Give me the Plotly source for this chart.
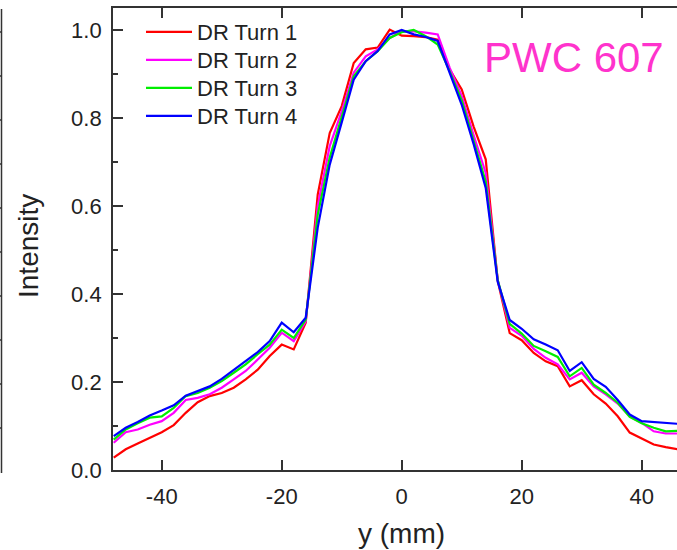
import plotly.graph_objects as go

y_mm = [-48, -46, -44, -42, -40, -38, -36, -34, -32, -30, -28, -26, -24, -22, -20, -18, -16,
        -14, -12, -10, -8, -6, -4, -2, 0, 2, 4, 6, 8, 10, 12, 14, 16, 18, 20, 22, 24, 26,
        28, 30, 32, 34, 36, 38, 40, 42, 44, 46, 48]

turn1 = [0.028, 0.047, 0.060, 0.073, 0.086, 0.102, 0.130, 0.154, 0.168, 0.175, 0.187, 0.206,
         0.228, 0.259, 0.285, 0.274, 0.335, 0.626, 0.766, 0.827, 0.925, 0.956, 0.960, 1.001,
         0.987, 0.986, 0.984, 0.978, 0.910, 0.865, 0.780, 0.706, 0.430, 0.311, 0.295, 0.266,
         0.247, 0.236, 0.190, 0.204, 0.172, 0.151, 0.122, 0.085, 0.071, 0.058, 0.052, 0.047, 0.045]

turn2 = [0.062, 0.086, 0.092, 0.103, 0.111, 0.130, 0.159, 0.164, 0.172, 0.187, 0.206, 0.225,
         0.251, 0.278, 0.312, 0.293, 0.338, 0.600, 0.736, 0.815, 0.903, 0.940, 0.956, 0.982,
         0.997, 0.997, 0.994, 0.990, 0.914, 0.850, 0.760, 0.675, 0.432, 0.323, 0.305, 0.275,
         0.255, 0.240, 0.206, 0.221, 0.190, 0.172, 0.151, 0.122, 0.107, 0.088, 0.083, 0.083, 0.083]

turn3 = [0.069, 0.092, 0.106, 0.119, 0.122, 0.141, 0.168, 0.175, 0.187, 0.202, 0.221, 0.240,
         0.263, 0.285, 0.319, 0.300, 0.342, 0.580, 0.710, 0.800, 0.895, 0.929, 0.952, 0.982,
         0.995, 1.000, 0.986, 0.967, 0.906, 0.840, 0.745, 0.655, 0.432, 0.332, 0.310, 0.282,
         0.270, 0.257, 0.213, 0.232, 0.194, 0.175, 0.153, 0.121, 0.106, 0.096, 0.088, 0.090, 0.090]

turn4 = [0.077, 0.096, 0.109, 0.124, 0.135, 0.147, 0.169, 0.179, 0.190, 0.207, 0.227, 0.247,
         0.268, 0.293, 0.335, 0.313, 0.346, 0.551, 0.694, 0.790, 0.887, 0.929, 0.952, 0.990,
         1.000, 0.990, 0.984, 0.975, 0.903, 0.830, 0.740, 0.641, 0.428, 0.341, 0.321, 0.297,
         0.285, 0.272, 0.225, 0.245, 0.207, 0.189, 0.159, 0.126, 0.111, 0.109, 0.106, 0.105, 0.105]

series_names = ["DR Turn 1", "DR Turn 2", "DR Turn 3", "DR Turn 4"]
series_colors = ["#ff0000", "#ff00ff", "#00ee00", "#0000ff"]
x_ticks = [-40, -20, 0, 20, 40]
y_ticks = [0.0, 0.2, 0.4, 0.6, 0.8, 1.0]
y_tick_text = ["0.0", "0.2", "0.4", "0.6", "0.8", "1.0"]

FONT = "Liberation Sans, Arial, sans-serif"
TXT = "#222222"
AX = "#333333"

W, H = 677, 550
ML, MT, MB, MR = 113, 8, 80, 0
pw = W - ML - MR
ph = H - MT - MB

def px2paper_x(px):
    return (px - ML) / pw

def py2paper_y(py):
    return (H - MB - py) / ph

legend_ids = ["legend", "legend2", "legend3", "legend4"]

fig = go.Figure()
for name, vals, col, lg in zip(series_names, [turn1, turn2, turn3, turn4], series_colors, legend_ids):
    fig.add_trace(go.Scatter(x=y_mm, y=vals, mode="lines", name=name, legend=lg,
                             line=dict(color=col, width=2.2)))

legend_layout = {}
for k, lg in enumerate(legend_ids):
    legend_layout[lg] = dict(x=px2paper_x(141), y=py2paper_y(32 + 28 * k),
                             xanchor="left", yanchor="middle",
                             bgcolor="rgba(0,0,0,0)", font=dict(size=22, color=TXT),
                             itemwidth=46)

# fragment of neighbouring panel's axis at left edge
shapes = [dict(type="line", xref="paper", yref="paper",
               x0=px2paper_x(1.5), x1=px2paper_x(1.5),
               y0=py2paper_y(9), y1=py2paper_y(473),
               line=dict(color=AX, width=1.5))]
for k in range(10):
    ty = 32 + 44 * k
    shapes.append(dict(type="line", xref="paper", yref="paper",
                       x0=px2paper_x(0), x1=px2paper_x(2),
                       y0=py2paper_y(ty), y1=py2paper_y(ty),
                       line=dict(color=AX, width=1.5)))

fig.update_layout(
    width=W, height=H,
    margin=dict(l=ML, r=MR, t=MT, b=MB),
    paper_bgcolor="white", plot_bgcolor="white",
    font=dict(family=FONT, color=TXT, size=22),
    showlegend=True,
    shapes=shapes,
    annotations=[
        dict(text="PWC 607", xref="paper", yref="paper",
             x=px2paper_x(574), y=py2paper_y(57), xanchor="center", yanchor="middle",
             showarrow=False, font=dict(size=42, color="#ff33cc", family=FONT)),
        dict(text="Intensity", xref="paper", yref="paper", textangle=-90,
             x=px2paper_x(28), y=py2paper_y(246), xanchor="center", yanchor="middle",
             showarrow=False, font=dict(size=28, color=TXT, family=FONT)),
        dict(text="y (mm)", xref="x", yref="paper",
             x=0, y=py2paper_y(533), xanchor="center", yanchor="middle",
             showarrow=False, font=dict(size=28, color=TXT, family=FONT)),
    ],
    **legend_layout,
)

fig.update_xaxes(
    range=[-48.12, 45.88], showline=True, linecolor=AX, linewidth=1.8, mirror="ticks",
    ticks="inside", ticklen=10, tickwidth=1.8, tickcolor=AX,
    tickvals=x_ticks, ticktext=[str(v) for v in x_ticks],
    tickfont=dict(size=22, color=TXT), ticklabelstandoff=6,
    showgrid=False, zeroline=False,
)
fig.update_yaxes(
    range=[0, 1.05], showline=True, linecolor=AX, linewidth=1.8, mirror=False,
    ticks="inside", ticklen=10, tickwidth=1.8, tickcolor=AX,
    tickvals=y_ticks, ticktext=y_tick_text,
    tickfont=dict(size=22, color=TXT), ticklabelstandoff=5,
    minor=dict(dtick=0.1, ticks="inside", ticklen=5, tickwidth=1.8, tickcolor=AX, showgrid=False),
    showgrid=False, zeroline=False,
)

fig.write_html("out.html")
